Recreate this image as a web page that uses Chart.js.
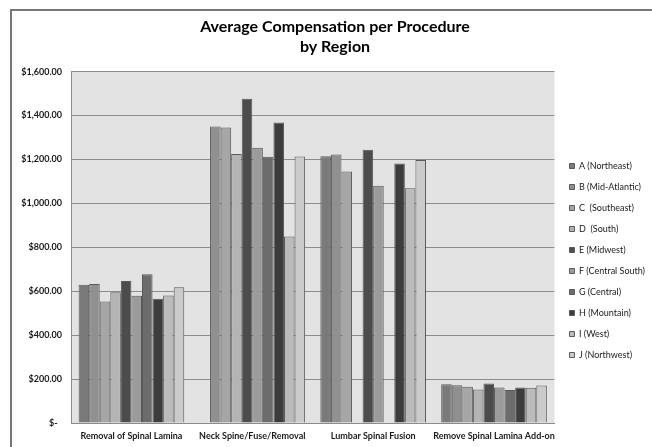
<!DOCTYPE html>
<html>
<head>
<meta charset="utf-8">
<title>Average Compensation per Procedure by Region</title>
<script src="https://cdn.jsdelivr.net/npm/chart.js@4.4.1/dist/chart.umd.min.js"></script>
<style>
  html, body { margin:0; padding:0; background:#fff; }
  canvas { display:block; }
</style>
</head>
<body>
<canvas id="chart" width="652" height="447"></canvas>
<script>
const procedures = [
  "Removal of Spinal Lamina",
  "Neck Spine/Fuse/Removal",
  "Lumbar Spinal Fusion",
  "Remove Spinal Lamina Add-on"
];
const regions = [
  "A (Northeast)", "B (Mid-Atlantic)", "C  (Southeast)", "D  (South)", "E (Midwest)",
  "F (Central South)", "G (Central)", "H (Mountain)", "I (West)", "J (Northwest)"
];

// average $ paid per procedure, one array per region (null = nothing reported)
const northeast    = [629, null, 1215, 177];
const midAtlantic  = [633, 1350, 1222, 172];
const southeast    = [553, 1345, 1145, 165];
const south        = [595, 1225, null, 153];
const midwest      = [647, 1476, 1244, 180];
const centralSouth = [579, 1253, 1080, 162];
const central      = [677, 1212, null, 150];
const mountain     = [566, 1368, 1181, 162];
const west         = [580, 849, 1069, 160];
const northwest    = [618, 1213, 1198, 171];

const series = [northeast, midAtlantic, southeast, south, midwest,
                centralSouth, central, mountain, west, northwest];

// gray shade for each region, same order as above
const shades = ["#7a7a7a", "#909090", "#a6a6a6", "#b4b4b4", "#4c4c4c",
                "#9b9b9b", "#6c6c6c", "#3c3c3c", "#bbbbbb", "#cbcbcb"];

function money(v){
  if(v === 0) return "$-  ";
  return "$" + Number(v).toLocaleString("en-US", { minimumFractionDigits:2, maximumFractionDigits:2 });
}

// white page, outer frame and the gray plot panel
const framePlugin = {
  id: "frame",
  beforeDraw(chart){
    const { ctx, chartArea } = chart;
    ctx.save();
    ctx.fillStyle = "#fff";
    ctx.fillRect(0, 0, chart.width, chart.height);
    ctx.strokeStyle = "#767676";
    ctx.lineWidth = 2;
    ctx.strokeRect(11, 10, chart.width + 40, chart.height + 40);
    ctx.fillStyle = "#e3e3e3";
    ctx.fillRect(chartArea.left, chartArea.top, chartArea.right - chartArea.left, chartArea.bottom - chartArea.top);
    ctx.restore();
  }
};

// move the legend block a bit right and down, level with the plot
const legendNudge = {
  id: "legendNudge",
  afterLayout(chart){
    const lg = chart.legend;
    if(!lg) return;
    lg.left += 3; lg.right += 3;
    lg.top += 37; lg.bottom += 37;
  }
};

Chart.defaults.font.family = "Lato, 'Open Sans', sans-serif";
Chart.defaults.color = "#1a1a1a";

new Chart(document.getElementById("chart"), {
  type: "bar",
  data: {
    labels: procedures,
    datasets: series.map((data, i) => ({
      label: regions[i],
      data,
      backgroundColor: shades[i],
      borderColor: "#5a5a5a",
      borderWidth: 1,
      categoryPercentage: 0.874,
      barPercentage: 1.0
    }))
  },
  options: {
    responsive: false,
    animation: false,
    layout: { padding: { left: 18, right: 0, top: 0, bottom: 0 } },
    plugins: {
      title: {
        display: true,
        text: ["Average Compensation per Procedure", "by Region"],
        color: "#000",
        font: { size: 16, weight: "bold", lineHeight: 1.3 },
        padding: { top: 16, bottom: 14 }
      },
      legend: {
        position: "right",
        align: "center",
        labels: {
          boxWidth: 5,
          boxHeight: 5,
          padding: 12,
          color: "#1a1a1a",
          font: { size: 9 }
        }
      },
      tooltip: { enabled: false }
    },
    scales: {
      x: {
        grid: { display: false, drawTicks: false },
        border: { display: true, color: "#8c8c8c", width: 1 },
        ticks: {
          padding: 8, autoSkip: false, maxRotation: 0, minRotation: 0,
          font: { size: 9, weight: "bold" }, color: "#1a1a1a"
        },
        afterFit(scale){ scale.height = 24; }
      },
      y: {
        min: 0,
        max: 1600,
        grid: { color: "#8c8c8c", lineWidth: 1, drawTicks: false },
        border: { display: true, color: "#8c8c8c", width: 1 },
        ticks: { stepSize: 200, padding: 9, font: { size: 9, weight: "bold" }, color: "#1a1a1a", callback: money },
        afterFit(scale){ scale.width = 53; }
      }
    }
  },
  plugins: [framePlugin, legendNudge]
});
</script>
</body>
</html>
